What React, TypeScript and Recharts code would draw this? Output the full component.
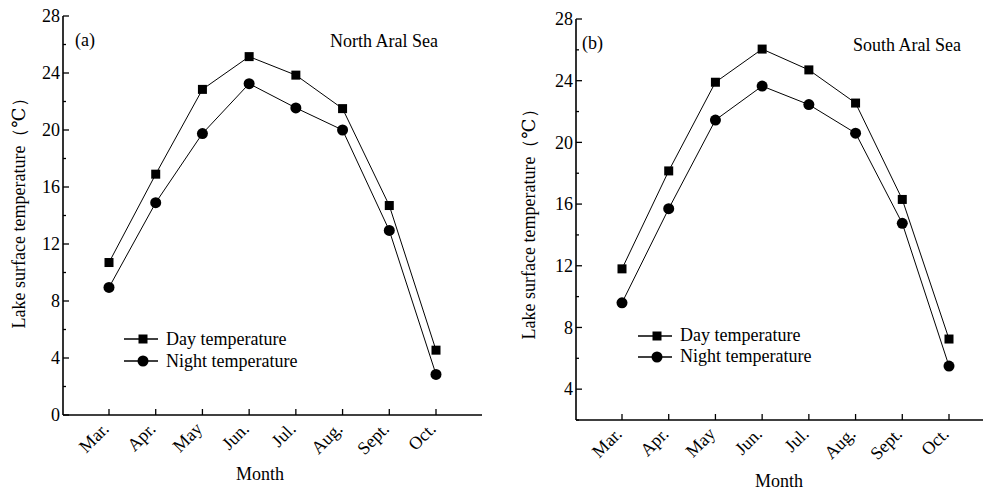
import React from 'react';
import { LineChart, Line, XAxis, YAxis, Legend, Label } from 'recharts';

// month labels and readings (°C)
const months = ['Mar.', 'Apr.', 'May', 'Jun.', 'Jul.', 'Aug.', 'Sept.', 'Oct.'];
const northDay = [10.7, 16.9, 22.85, 25.15, 23.85, 21.5, 14.7, 4.55];
const northNight = [8.95, 14.9, 19.75, 23.25, 21.55, 20.0, 12.95, 2.85];
const southDay = [11.8, 18.15, 23.9, 26.05, 24.7, 22.55, 16.3, 7.25];
const southNight = [9.6, 15.7, 21.45, 23.65, 22.45, 20.6, 14.75, 5.5];

// y ticks every 2 (minor), labelled every 4
const northTicks = [0, 2, 4, 6, 8, 10, 12, 14, 16, 18, 20, 22, 24, 26, 28];
const southTicks = [2, 4, 6, 8, 10, 12, 14, 16, 18, 20, 22, 24, 26, 28];

const FONT = "'Liberation Serif', 'Times New Roman', 'DejaVu Serif', serif";
const yLabel = 'Lake surface temperature（℃）';

const northData = months.map((m, i) => ({ month: m, day: northDay[i], night: northNight[i] }));
const southData = months.map((m, i) => ({ month: m, day: southDay[i], night: southNight[i] }));

const txt = { fontFamily: FONT, fill: '#000' };

const YTick = (props: any) => {
  const { x, y, payload } = props;
  const ax = x + 4; // tickMargin
  const major = payload.value % 4 === 0;
  return (
    <g>
      <line x1={ax} x2={ax + (major ? 6 : 3)} y1={y} y2={y} stroke="#000" strokeWidth={1.3} />
      {major && (
        <text x={ax - 3} y={y} dy="0.35em" textAnchor="end" fontSize={18} style={txt}>
          {payload.value}
        </text>
      )}
    </g>
  );
};

const XTick = (props: any) => {
  const { x, y, payload } = props;
  const ay = y - 4;
  const tx = x + 1;
  const ty = ay + 15;
  return (
    <g>
      <line x1={x} x2={x} y1={ay} y2={ay - 6} stroke="#000" strokeWidth={1.3} />
      <text x={tx} y={ty} transform={`rotate(-45 ${tx} ${ty})`} textAnchor="end" fontSize={18} style={txt}>
        {payload.value}
      </text>
    </g>
  );
};

const squareDot = (p: any) => (
  <rect key={`s${p.index}`} x={p.cx - 4.5} y={p.cy - 4.5} width={9} height={9} fill="#000" />
);
const circleDot = (p: any) => <circle key={`c${p.index}`} cx={p.cx} cy={p.cy} r={5.5} fill="#000" />;

const LegendBox = (props: any) => {
  const { payload = [], rowH } = props;
  return (
    <div style={{ fontFamily: FONT, fontSize: 18, color: '#000' }}>
      {payload.map((e: any) => (
        <div key={e.dataKey} style={{ display: 'flex', alignItems: 'center', height: rowH }}>
          <svg width={42} height={14} style={{ display: 'block' }}>
            <line x1={0} x2={34} y1={7} y2={7} stroke="#000" strokeWidth={1.5} />
            {e.dataKey === 'day' ? (
              <rect x={14.5} y={2.5} width={9} height={9} fill="#000" />
            ) : (
              <circle cx={19} cy={7} r={5.5} fill="#000" />
            )}
          </svg>
          <span style={{ whiteSpace: 'nowrap' }}>{e.value}</span>
        </div>
      ))}
    </div>
  );
};

const Panel = (props: any) => {
  const { data, ticks, domain, margin, width, tag, title, legendPos, rowH, yLab, xLab, tagPos, titlePos } = props;
  return (
    <LineChart width={width} height={490} data={data} margin={margin} style={{ fontFamily: FONT }}>
      <XAxis
        dataKey="month"
        interval={0}
        padding={{ left: 46, right: 46 }}
        tickSize={0}
        tickMargin={4}
        tickLine={false}
        tick={<XTick />}
        height={60}
        axisLine={{ stroke: '#000', strokeWidth: 1.6 }}
      >
        <Label
          content={() => (
            <text x={xLab[0]} y={xLab[1]} textAnchor="middle" fontSize={18} style={txt}>
              Month
            </text>
          )}
        />
      </XAxis>
      <XAxis xAxisId="top" orientation="top" dataKey="month" height={0} tick={false} tickLine={false} axisLine={{ stroke: '#000', strokeWidth: 1.6 }} />
      <YAxis
        domain={domain}
        ticks={ticks}
        interval={0}
        width={40}
        tickSize={0}
        tickMargin={4}
        tickLine={false}
        tick={<YTick />}
        axisLine={{ stroke: '#000', strokeWidth: 1.6 }}
      >
        <Label
          content={() => (
            <g>
              <text
                x={yLab[0]}
                y={yLab[1]}
                transform={`rotate(-90 ${yLab[0]} ${yLab[1]})`}
                textAnchor="middle"
                fontSize={18}
                style={txt}
              >
                {yLabel}
              </text>
              <text x={tagPos[0]} y={tagPos[1]} fontSize={18} style={txt}>
                {tag}
              </text>
              <text x={titlePos[0]} y={titlePos[1]} fontSize={18} style={txt}>
                {title}
              </text>
            </g>
          )}
        />
      </YAxis>
      <YAxis yAxisId="right" orientation="right" domain={domain} width={0} tick={false} tickLine={false} axisLine={{ stroke: '#000', strokeWidth: 1.6 }} />
      <Legend
        layout="horizontal"
        verticalAlign="middle"
        align="center"
        content={(p: any) => <LegendBox {...p} rowH={rowH} />}
        wrapperStyle={{ position: 'absolute', left: legendPos[0], top: legendPos[1], width: 'auto' }}
      />
      <Line
        dataKey="day"
        name="Day temperature"
        stroke="#000"
        strokeWidth={1}
        dot={squareDot}
        isAnimationActive={false}
      />
      <Line
        dataKey="night"
        name="Night temperature"
        stroke="#000"
        strokeWidth={1}
        dot={circleDot}
        isAnimationActive={false}
      />
    </LineChart>
  );
};

export default function App() {
  return (
    <div style={{ position: 'relative', width: 983, height: 490, overflow: 'hidden', background: '#fff', fontFamily: FONT }}>
      <style>{'body{margin:0}'}</style>
      <div style={{ position: 'absolute', left: 0, top: 0 }}>
        <Panel
          data={northData}
          ticks={northTicks}
          domain={[0, 28]}
          width={490}
          margin={{ top: 16, right: 8, left: 23, bottom: 15 }}
          tag="(a)"
          title="North Aral Sea"
          tagPos={[75, 46]}
          titlePos={[330, 47]}
          yLab={[25, 209]}
          xLab={[260, 480]}
          legendPos={[124, 328]}
          rowH={22}
        />
      </div>
      <div style={{ position: 'absolute', left: 490, top: 0 }}>
        <Panel
          data={southData}
          ticks={southTicks}
          domain={[2, 28]}
          width={510}
          margin={{ top: 19, right: 5, left: 46, bottom: 10 }}
          tag="(b)"
          title="South Aral Sea"
          tagPos={[92, 49]}
          titlePos={[363, 51]}
          yLab={[45, 220]}
          xLab={[289, 487]}
          legendPos={[148, 325]}
          rowH={21}
        />
      </div>
    </div>
  );
}
